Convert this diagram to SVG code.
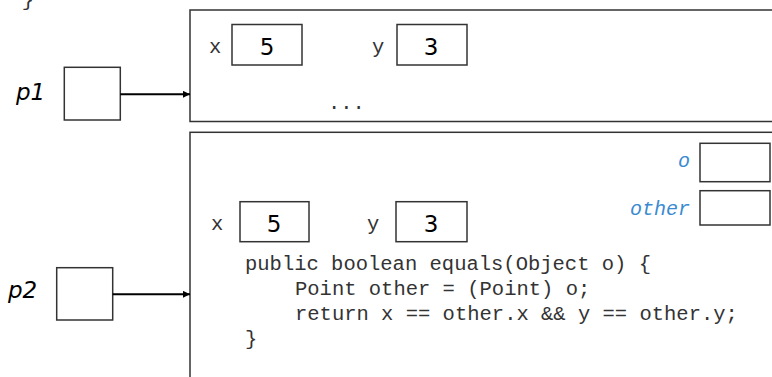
<svg xmlns="http://www.w3.org/2000/svg" width="772" height="377" viewBox="0 0 772 377">
<defs>
<marker id="ah" markerWidth="8" markerHeight="8" refX="7" refY="3.5" orient="auto" markerUnits="userSpaceOnUse">
<path d="M0,0 L7,3.5 L0,7 z" fill="#000"/>
</marker>
<style>
.box{fill:#fff;stroke:#333;stroke-width:1.5}
.mono{font-family:"Liberation Mono","Courier New",monospace;font-size:20.5px;fill:#333}
.num{font-family:"DejaVu Sans",Verdana,sans-serif;font-size:23px;fill:#000;text-anchor:middle}
.ref{font-family:"DejaVu Sans",Verdana,sans-serif;font-style:italic;font-size:23px;fill:#000}
.loc{font-family:"Liberation Mono","Courier New",monospace;font-style:italic;font-size:20px;fill:#3a8ad2}
.conn{stroke:#000;stroke-width:2;fill:none}
</style>
</defs>
<rect width="772" height="377" fill="#fff"/>
<text class="mono" x="28" y="6" text-anchor="middle">}</text>
<g id="obj1">
<rect class="box" x="190" y="10" width="600" height="111.5"/>
<text class="mono" x="209" y="53">x</text>
<rect class="box" x="232" y="24.5" width="70" height="40.5"/>
<text class="num" x="267" y="55">5</text>
<text class="mono" x="372" y="53">y</text>
<rect class="box" x="397" y="24.5" width="70" height="40.5"/>
<text class="num" x="431" y="55">3</text>
<text class="mono" x="328" y="109">...</text>
</g>
<g id="obj2">
<rect class="box" x="190" y="132.3" width="600" height="260"/>
<text class="mono" x="211" y="230">x</text>
<rect class="box" x="240" y="201.7" width="69" height="40"/>
<text class="num" x="274" y="232">5</text>
<text class="mono" x="367" y="230">y</text>
<rect class="box" x="396" y="201.7" width="71" height="40"/>
<text class="num" x="431" y="232">3</text>
<text class="mono" x="245" y="270">public boolean equals(Object o) {</text>
<text class="mono" x="295" y="295">Point other = (Point) o;</text>
<text class="mono" x="295" y="320">return x == other.x &amp;&amp; y == other.y;</text>
<text class="mono" x="245" y="345">}</text>
</g>
<g id="local-o">
<text class="loc" x="690" y="167" text-anchor="end">o</text>
<rect class="box" x="700" y="143.3" width="70" height="38.4"/>
</g>
<g id="local-other">
<text class="loc" x="690" y="215" text-anchor="end">other</text>
<rect class="box" x="700" y="190.7" width="70" height="34.3"/>
</g>
<g id="p1">
<text class="ref" x="16" y="100">p1</text>
<rect class="box" x="64.3" y="67.3" width="56" height="52.7"/>
</g>
<g id="p2">
<text class="ref" x="8" y="298">p2</text>
<rect class="box" x="56.7" y="267.7" width="56" height="52.3"/>
</g>
<g id="connectors">
<line class="conn" x1="120.3" y1="94.3" x2="190" y2="94.3" marker-end="url(#ah)"/>
<line class="conn" x1="112.7" y1="294.3" x2="190" y2="294.3" marker-end="url(#ah)"/>
</g>
</svg>
